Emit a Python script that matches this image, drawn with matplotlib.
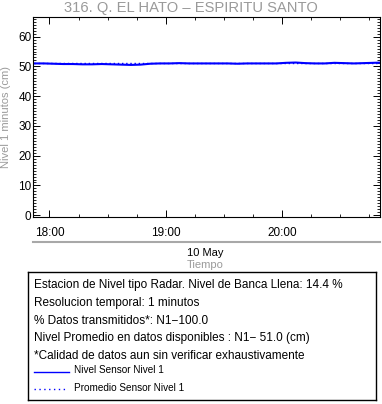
import numpy as np
import pandas as pd
import matplotlib
matplotlib.use('Agg')
import matplotlib.pyplot as plt
import matplotlib.dates as mdates

plt.rcParams['font.family'] = ['Liberation Sans', 'DejaVu Sans']

######## Data ################################################################

# level readings (cm), one every 5 minutes
start_time = '2023-05-10 17:52'
step_minutes = 5
nivel = [51.0, 51.0, 50.9, 50.8, 50.8, 50.7, 50.7, 50.8, 50.7, 50.6,
         50.5, 50.6, 50.9, 51.0, 51.0, 51.1, 51.0, 51.0, 51.0, 51.0,
         51.0, 50.9, 51.0, 51.0, 51.0, 51.0, 51.2, 51.3, 51.1, 51.0,
         51.0, 51.2, 51.1, 51.0, 51.1, 51.2, 51.3]
promedio = 51.0

title = '316. Q. EL HATO \u2013 ESPIRITU SANTO'
info_lines = ['Estacion de Nivel tipo Radar. Nivel de Banca Llena: 14.4 %',
              'Resolucion temporal: 1 minutos',
              '% Datos transmitidos*: N1\u2212100.0',
              'Nivel Promedio en datos disponibles : N1\u2212 51.0 (cm)',
              '*Calidad de datos aun sin verificar exhaustivamente']
legend_labels = ['Nivel Sensor Nivel 1', 'Promedio Sensor Nivel 1']

times = pd.date_range(start_time, periods=len(nivel), freq=f'{step_minutes}min')

######## Plot ################################################################

W, H = 382, 404
fig = plt.figure(figsize=(W / 100, H / 100), dpi=100)
gray = '#9a9a9a'

ax = fig.add_axes([33 / W, 1 - 217 / H, 347 / W, 200 / H])
ax.plot(times, nivel, color='#0000ff', lw=1.5)
ax.plot([times[0], times[-1]], [promedio, promedio], color='#0000ff', lw=1.0, ls=(0, (1, 2)))

ax.set_xlim(pd.Timestamp('2023-05-10 17:51:30'), pd.Timestamp('2023-05-10 20:50:30'))
ax.set_ylim(-0.6, 66.6)
ax.set_yticks(range(0, 61, 10))
ax.yaxis.set_minor_locator(matplotlib.ticker.MultipleLocator(1))
ax.xaxis.set_major_locator(mdates.HourLocator())
ax.xaxis.set_minor_locator(mdates.MinuteLocator(byminute=[15, 30, 45]))
ax.xaxis.set_major_formatter(mdates.DateFormatter('%H:%M'))
ax.tick_params(which='both', direction='in', top=True, right=True, labelsize=8.5)
ax.tick_params(which='major', length=5, width=0.7)
ax.tick_params(which='minor', length=2.5, width=0.6)
ax.tick_params(axis='x', pad=7)
ax.tick_params(axis='y', pad=1)
for s in ax.spines.values():
    s.set_linewidth(0.8)

# y axis title, drawn at a fixed spot on the left edge
fig.text(6 / W, 1 - 117 / H, 'Nivel 1 minutos (cm)', rotation=90, ha='center', va='center',
         color=gray, fontsize=8)

fig.text(0.5, 1 - 8 / H, title, ha='center', va='center', color=gray, fontsize=10.6)

# date separator and axis title
fig.add_artist(plt.Line2D([33 / W, 380 / W], [1 - 242 / H, 1 - 242 / H], color='#a8a8a8', lw=1.5))
fig.text(205 / W, 1 - 253 / H, '10 May', ha='center', va='center', fontsize=8)
fig.text(205 / W, 1 - 265 / H, 'Tiempo', ha='center', va='center', color=gray, fontsize=8)

# info box
box = fig.add_axes([28 / W, 1 - 400 / H, 348 / W, 128 / H])
box.set_xticks([])
box.set_yticks([])
box.set_xlim(0, 348)
box.set_ylim(128, 0)
for s in box.spines.values():
    s.set_linewidth(1.0)
for i, line in enumerate(info_lines):
    box.text(6, 13 + i * 17.8, line, va='center', fontsize=8.5)
box.plot([6, 41], [100, 100], color='#0000ff', lw=1.0)
box.text(46, 98, legend_labels[0], va='center', fontsize=7.2)
box.plot([6, 40], [117, 117], color='#0000ff', lw=1.0, ls=(0, (1, 2.5)))
box.text(46, 116, legend_labels[1], va='center', fontsize=7.2)

fig.savefig('out.png', dpi=100)
